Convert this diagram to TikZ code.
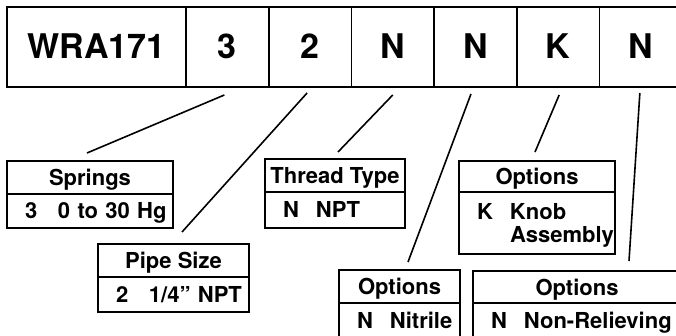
\documentclass[tikz,border=0pt]{standalone}
\usepackage{fontspec}
\setmainfont{TeX Gyre Heros}
\usetikzlibrary{positioning}
\newcommand{\code}[1]{\hspace*{18pt}\makebox[33pt][l]{#1}}

\begin{document}
\begin{tikzpicture}[x=1pt, y=1pt,
  cell/.style={draw,line width=1.7pt,minimum width=82.7pt,minimum height=80pt,inner sep=0pt,outer sep=0pt,text height=24pt,text depth=0pt,font=\fontsize{34}{36}\selectfont\bfseries},
  hdr/.style={draw,line width=1.7pt,minimum height=33pt,inner sep=0pt,outer sep=0pt,text height=16pt,text depth=0pt,font=\fontsize{22}{23}\selectfont\bfseries},
  body/.style={draw,line width=1.7pt,minimum height=34pt,inner sep=0pt,outer sep=0pt,align=left,text height=16pt,text depth=0pt,font=\fontsize{22}{23}\selectfont\bfseries},
  conn/.style={line width=1.6pt}]
\useasboundingbox (0,0) rectangle (676,-336);
\clip (0,0) rectangle (676,-336);
% model code row
\node[cell,minimum width=179pt,anchor=north west] (wra) at (7,-7) {WRA171};
\node[cell,right=0pt of wra] (c3) {3};
\node[cell,right=0pt of c3] (c2) {2};
\node[cell,right=0pt of c2] (n1) {N};
\node[cell,right=0pt of n1] (n2) {N};
\node[cell,right=0pt of n2] (k) {K};
\node[cell,right=0pt of k] (n3) {N};
% legend boxes
\node[hdr,minimum width=166pt,anchor=north west] (spr) at (7,-161) {Springs};
\node[body,text width=166pt,below=0pt of spr] (spr-b) {\code{3}0 to 30 Hg};
\node[hdr,minimum width=151pt,anchor=north west] (pipe) at (98,-244) {Pipe Size};
\node[body,text width=151pt,minimum height=35pt,below=0pt of pipe] (pipe-b) {\code{2}1/4" NPT};
\node[hdr,minimum width=140pt,anchor=north west] (thread) at (265,-159) {Thread Type};
\node[body,text width=140pt,minimum height=36pt,below=0pt of thread] (thread-b) {\code{N}NPT};
\node[hdr,minimum width=156pt,minimum height=31pt,anchor=north west] (knob) at (459,-161) {Options};
\node[body,text width=156pt,minimum height=62pt,text depth=23pt,below=0pt of knob] (knob-b) {\code{K}Knob\\\hspace*{51pt}Assembly};
\node[hdr,minimum width=121pt,anchor=north west] (nitr) at (339,-270) {Options};
\node[body,text width=121pt,below=0pt of nitr] (nitr-b) {\code{N}Nitrile};
\node[hdr,minimum width=208pt,minimum height=32pt,anchor=north west] (nonrel) at (473,-271) {Options};
\node[body,text width=208pt,below=0pt of nonrel] (nonrel-b) {\code{N}Non-Relieving};
% leader lines
\foreach \src/\sx/\sy/\dst/\dx/\dy in {c3/-3/-8/spr/-3/8, c2/-3/-6/pipe/8.5/12, n1/0/-8/thread/3/7,
    n2/-4.5/-7/nitr/8.5/8, k/1/-8/knob/-2/9, n3/-1/-6/nonrel/52/10}
  {\draw[conn] ([xshift=\sx pt,yshift=\sy pt]\src.south) -- ([xshift=\dx pt,yshift=\dy pt]\dst.north);}
\end{tikzpicture}
\end{document}
